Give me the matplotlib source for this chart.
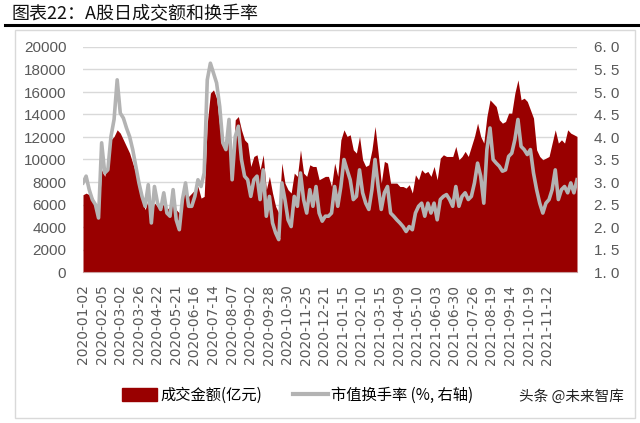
#!/usr/bin/env python3

import matplotlib
matplotlib.use("Agg")
import matplotlib.pyplot as plt
from matplotlib.lines import Line2D
from matplotlib.patches import Patch, Rectangle
import numpy as np

plt.rcParams["font.family"] = ["Liberation Sans", "Noto Sans CJK SC", "DejaVu Sans"]

# x-axis category labels (every 18th trading day)
date_labels = [
    "2020-01-02", "2020-02-05", "2020-03-02", "2020-03-26", "2020-04-22",
    "2020-05-21", "2020-06-16", "2020-07-14", "2020-08-07", "2020-09-02",
    "2020-09-28", "2020-10-30", "2020-11-25", "2020-12-21", "2021-01-15",
    "2021-02-10", "2021-03-15", "2021-04-09", "2021-05-10", "2021-06-03",
    "2021-06-30", "2021-07-26", "2021-08-19", "2021-09-14", "2021-10-19",
    "2021-11-12",
]
label_step = 18
n_days = 480

# daily turnover (亿元), sampled roughly every 3 trading days
volume_2020h1 = [
    6870, 7010, 6870, 6720, 5830, 4940, 9090, 8500, 9980, 11750,
    12050, 12640, 12340, 11750, 11160, 10570, 9680, 8790, 7600, 6420,
    5540, 6420, 5240, 6130, 5830, 5540, 6130, 5540, 5830, 6420,
    5540, 5240, 6720, 7010, 6720, 7010, 7310, 7600,
]
volume_2020h2 = [
    6570, 6720, 13230, 15900, 16190, 15450, 12940, 11750, 11160, 12050,
    8200, 13530, 13820, 12640, 11750, 11460, 9380, 10270, 10420, 9090,
    10420, 7310, 8500, 7020, 5830, 5240, 9680, 7900, 7310, 7020,
    8790, 8500, 10860, 8790, 8500, 9530, 9380, 9380, 8200, 8350,
    8500,
]
volume_2021h1 = [
    8500, 7600, 9680, 8500, 11750, 12640, 12050, 12200, 10860, 10570,
    12050, 9980, 9380, 9530, 10860, 12940, 10570, 7900, 9830, 9680,
    7900, 7900, 7900, 7600, 7600, 7460, 7760, 7020, 8640, 8200,
    9090, 8790, 8940, 8500, 9380, 8200, 10120, 10420, 10270, 10270,
]
volume_2021h2 = [
    10270, 11160, 9980, 10270, 10720, 10270, 11160, 12050, 13230, 12050,
    11460, 13820, 15300, 15010, 14710, 13530, 13230, 13380, 14120, 14120,
    15900, 17080, 15300, 15450, 15160, 14420, 13680, 10860, 10270, 9980,
    10120, 10270, 11460, 12640, 11460, 11750, 11460, 12640, 12340, 12200,
    12050,
]

# market-cap turnover rate (%), same sampling
turnover_2020h1 = [
    2.98, 3.13, 2.83, 2.61, 2.50, 2.20, 3.87, 3.20, 3.27, 4.01,
    4.39, 5.27, 4.53, 4.42, 4.20, 4.01, 3.72, 3.35, 2.98, 2.68,
    2.46, 2.94, 2.09, 2.90, 2.53, 2.39, 2.76, 2.31, 2.24, 2.83,
    2.16, 1.94, 2.61, 2.98, 2.46, 2.46, 2.68, 3.05,
]
turnover_2020h2 = [
    2.90, 3.20, 5.27, 5.64, 5.42, 5.20, 4.68, 3.87, 3.72, 4.39,
    3.05, 4.01, 4.24, 3.50, 3.13, 3.05, 2.68, 3.05, 3.13, 2.61,
    3.27, 2.24, 2.68, 2.09, 1.87, 1.72, 2.98, 2.61, 2.16, 2.01,
    2.68, 2.46, 3.20, 2.61, 2.31, 2.83, 2.46, 2.90, 2.31, 2.13,
    2.24,
]
turnover_2021h1 = [
    2.24, 2.31, 2.90, 2.46, 2.90, 3.50, 3.27, 3.05, 2.61, 2.68,
    3.27, 2.76, 2.53, 2.39, 2.83, 3.50, 2.90, 2.39, 2.76, 2.90,
    2.31, 2.24, 2.16, 2.09, 2.01, 1.90, 2.01, 1.94, 2.31, 2.46,
    2.53, 2.24, 2.53, 2.31, 2.53, 2.16, 2.61, 2.68, 2.72, 2.61,
]
turnover_2021h2 = [
    2.46, 2.90, 2.46, 2.68, 2.76, 2.61, 2.68, 2.98, 3.42, 3.13,
    2.53, 3.72, 4.20, 3.50, 3.42, 3.35, 3.24, 3.27, 3.57, 3.64,
    3.94, 4.39, 3.79, 3.72, 3.61, 3.72, 3.20, 2.83, 2.53, 2.31,
    2.53, 2.61, 2.83, 3.27, 2.61, 2.83, 2.90, 2.76, 2.98, 2.76,
    3.05,
]

volume = np.array(volume_2020h1 + volume_2020h2 + volume_2021h1 + volume_2021h2)
turnover = np.array(turnover_2020h1 + turnover_2020h2 + turnover_2021h1 + turnover_2021h2)

RED = "#990000"
GREY = "#B3B3B3"
TICK_COLOR = "#595959"

fig = plt.figure(figsize=(6.4, 4.23), dpi=100)

# header: title + thick rule, light frame around the chart
fig.text(0.018, 0.967, "图表22：A股日成交额和换手率", fontsize=13,
         family=["Noto Sans CJK SC"], va="center", ha="left", color="#111111")
fig.add_artist(Line2D([0.008, 1.0], [1 - 25 / 423] * 2, color="black",
                      lw=2.2, transform=fig.transFigure))
fig.add_artist(Rectangle((15 / 640, 1 - 418 / 423), 620 / 640, 388 / 423,
                         fill=False, edgecolor="#D9D9D9", lw=1,
                         transform=fig.transFigure))

ax = fig.add_axes([83 / 640, 1 - 272 / 423, 494 / 640, 225 / 423])
x = np.linspace(0, n_days - 1, len(volume))

ax.fill_between(x, 0, volume, color=RED, lw=0, zorder=2)
ax.set_xlim(0, n_days - 1)
ax.set_ylim(0, 20000)
ax.set_yticks(np.arange(0, 20001, 2000))
ax.grid(axis="y", color="#D9D9D9", lw=1, zorder=0)
ax.set_axisbelow(True)
for side in ["top", "left", "right"]:
    ax.spines[side].set_visible(False)
ax.spines["bottom"].set_color("#C9A0A0")
ax.tick_params(axis="y", length=0, pad=12, labelsize=11, labelcolor=TICK_COLOR)

tick_pos = np.arange(len(date_labels)) * label_step
ax.set_xticks(tick_pos)
ax.set_xticklabels(date_labels, rotation=90, fontsize=10,
                   family=["DejaVu Sans"], color=TICK_COLOR)
ax.tick_params(axis="x", length=0, pad=9)

ax2 = ax.twinx()
ax2.plot(x, turnover, color=GREY, lw=2.6, solid_joinstyle="round", zorder=3)
ax2.set_ylim(1, 6)
r_ticks = np.arange(1.0, 6.01, 0.5)
ax2.set_yticks(r_ticks)
ax2.set_yticklabels([f"{v:.1f}".replace(".", ". ") for v in r_ticks])
ax2.tick_params(axis="y", length=0, pad=12, labelsize=11, labelcolor=TICK_COLOR)
for side in ["top", "left", "right", "bottom"]:
    ax2.spines[side].set_visible(False)

handles = [
    Patch(facecolor=RED, edgecolor=RED),
    Line2D([0], [0], color=GREY, lw=3),
]
labels = ["成交金额(亿元)", "市值换手率 (%, 右轴)"]
fig.legend(handles, labels, loc="center", bbox_to_anchor=(0.465, 0.066),
           ncol=2, frameon=False, handlelength=2.3,
           handleheight=0.9, columnspacing=2.0, handletextpad=0.2,
           prop={"family": ["Noto Sans CJK SC"], "size": 11})

fig.text(0.975, 0.062, "头条 @未来智库", fontsize=10.5,
         family=["Noto Sans CJK SC"], va="center", ha="right", color="#222222")

fig.savefig("out.png", dpi=100)
